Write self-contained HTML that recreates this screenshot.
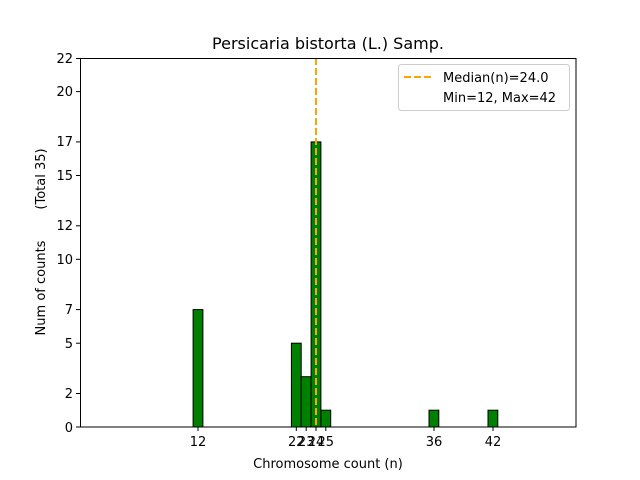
<!DOCTYPE html>
<html><head><style>body{margin:0;background:#fff}svg{display:block}text{font-family:"DejaVu Sans","Liberation Sans",sans-serif;fill:#000}</style></head>
<body>
<svg width="640" height="480" viewBox="0 0 640 480">
<rect width="640" height="480" fill="#fff"/>
<g fill="green" stroke="#000" stroke-width="1">
<rect x="193.1" y="309.6" width="9.8" height="117.4"/>
<rect x="291.4" y="343.2" width="9.8" height="83.8"/>
<rect x="301.2" y="376.7" width="9.9" height="50.3"/>
<rect x="311.1" y="141.9" width="9.8" height="285.1"/>
<rect x="320.9" y="410.2" width="9.8" height="16.8"/>
<rect x="429" y="410.2" width="9.8" height="16.8"/>
<rect x="488" y="410.2" width="9.8" height="16.8"/>
</g>
<line x1="316" y1="58" x2="316" y2="427" stroke="orange" stroke-width="2" stroke-dasharray="7,3"/>
<line x1="80" y1="427" x2="527" y2="427" stroke="#000" stroke-width="1"/>
<rect x="80.5" y="58.5" width="495.5" height="368.5" fill="none" stroke="#000" stroke-width="1"/>
<g stroke="#000" stroke-width="1">
<line x1="76" y1="427" x2="80" y2="427"/><line x1="76" y1="393.5" x2="80" y2="393.5"/><line x1="76" y1="343.2" x2="80" y2="343.2"/><line x1="76" y1="309.6" x2="80" y2="309.6"/><line x1="76" y1="259.3" x2="80" y2="259.3"/><line x1="76" y1="225.8" x2="80" y2="225.8"/><line x1="76" y1="175.5" x2="80" y2="175.5"/><line x1="76" y1="141.9" x2="80" y2="141.9"/><line x1="76" y1="91.6" x2="80" y2="91.6"/><line x1="76" y1="58.5" x2="80" y2="58.5"/>
<line x1="198" y1="427" x2="198" y2="431"/><line x1="296.3" y1="427" x2="296.3" y2="431"/><line x1="306.2" y1="427" x2="306.2" y2="431"/><line x1="316" y1="427" x2="316" y2="431"/><line x1="325.8" y1="427" x2="325.8" y2="431"/><line x1="434" y1="427" x2="434" y2="431"/><line x1="493" y1="427" x2="493" y2="431"/>
</g>
<g font-size="13" text-anchor="end">
<text x="73" y="432">0</text><text x="73" y="398">2</text><text x="73" y="348">5</text><text x="73" y="314">7</text><text x="73" y="264">10</text><text x="73" y="230">12</text><text x="73" y="180">15</text><text x="73" y="146">17</text><text x="73" y="96">20</text><text x="73" y="63">22</text>
</g>
<g font-size="13" text-anchor="middle">
<text x="198" y="446">12</text><text x="296.3" y="446">22</text><text x="306.2" y="446">23</text><text x="316" y="446">24</text><text x="325.8" y="446">25</text><text x="434" y="446">36</text><text x="493" y="446">42</text>
<text x="328" y="468">Chromosome count (n)</text>
<text x="328" y="49" font-size="16">Persicaria bistorta (L.) Samp.</text>
<text transform="translate(45,288) rotate(-90)">Num of counts</text>
<text transform="translate(45,179) rotate(-90)">(Total 35)</text>
</g>
<rect x="398.5" y="64.5" width="171" height="46" rx="3" fill="#fff" stroke="#ccc"/>
<line x1="404" y1="77" x2="432" y2="77" stroke="orange" stroke-width="2" stroke-dasharray="7,3"/>
<text x="443" y="82" font-size="13">Median(n)=24.0</text>
<text x="443" y="102" font-size="13">Min=12, Max=42</text>
</svg>
</body></html>
